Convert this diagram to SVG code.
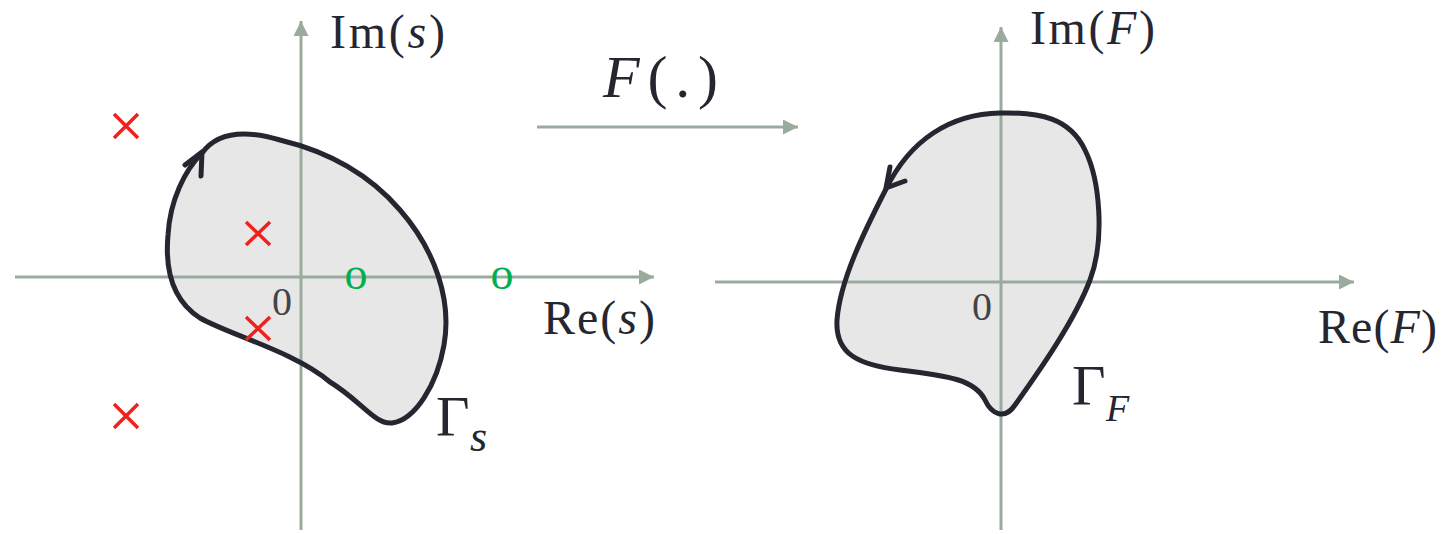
<svg xmlns="http://www.w3.org/2000/svg" width="1447" height="534" viewBox="0 0 1447 534">
<style>
.ax{stroke:#9aab9e;stroke-width:3;fill:none}
.fill{fill:#e6e7e6;stroke:none}
.curve{fill:none;stroke:#262630;stroke-width:5;stroke-linejoin:round;stroke-linecap:round}
.lbl{font-family:"Liberation Serif",serif;fill:#262630}
.it{font-style:italic}
.zero{font-family:"Liberation Serif",serif;fill:#444;font-size:40px}
.cross{stroke:#f0201c;stroke-width:3.5;fill:none}
.zo{font-family:"Liberation Serif",serif;fill:#00b050;font-size:46px;text-anchor:middle}
</style>
<defs>
<marker id="ah" markerUnits="userSpaceOnUse" markerWidth="16" markerHeight="16" refX="15" refY="7.5" orient="auto">
<path d="M0,0 L15,7.5 L0,15 z" fill="#9aab9e"/>
</marker>
</defs>

<g id="fill-s"><path class="fill" d="M202,153 C215,135 240,128 280,140 C330,152 370,175 400,210 C435,250 452,300 444,345 C437,385 415,420 392,423 C375,425 360,400 330,382 C295,352 230,335 200,318 C172,300 165,268 168,235 C170,200 185,170 202,153 Z"/></g>
<g id="fill-F"><path class="fill" d="M886,189 C865,230 840,280 837,320 C835,355 860,365 900,370 C950,376 975,380 985,400 C992,415 1005,420 1015,405 C1040,370 1075,320 1090,280 C1105,240 1100,180 1085,150 C1070,118 1040,112 1000,113 C950,114 910,140 886,189 Z"/></g>

<g id="connectors">
<line class="ax" x1="301" y1="530" x2="301" y2="21" marker-end="url(#ah)"/>
<line class="ax" x1="15" y1="277" x2="654" y2="277" marker-end="url(#ah)"/>
<line class="ax" x1="1001" y1="530" x2="1001" y2="27" marker-end="url(#ah)"/>
<line class="ax" x1="715" y1="282" x2="1354" y2="282" marker-end="url(#ah)"/>
<line class="ax" x1="537" y1="127" x2="798" y2="127" marker-end="url(#ah)"/>
</g>

<g id="contour-s">
<path class="curve" d="M202,153 C215,135 240,128 280,140 C330,152 370,175 400,210 C435,250 452,300 444,345 C437,385 415,420 392,423 C375,425 360,400 330,382 C295,352 230,335 200,318 C172,300 165,268 168,235 C170,200 185,170 202,153 Z"/>
<path class="curve" d="M185,165 L202,152 L201,176"/>
<text class="lbl" x="436" y="436" font-size="58">Γ</text>
<text class="lbl it" x="470" y="451" font-size="44">s</text>
</g>

<g id="contour-F">
<path class="curve" d="M886,189 C865,230 840,280 837,320 C835,355 860,365 900,370 C950,376 975,380 985,400 C992,415 1005,420 1015,405 C1040,370 1075,320 1090,280 C1105,240 1100,180 1085,150 C1070,118 1040,112 1000,113 C950,114 910,140 886,189 Z"/>
<path class="curve" d="M890,167 L886,188 L905,181"/>
<text class="lbl" x="1072" y="405" font-size="58">Γ</text>
<text class="lbl it" x="1106" y="421" font-size="38">F</text>
</g>

<g id="axis-labels">
<text class="lbl" x="330" y="48" font-size="48" textLength="115" lengthAdjust="spacing">Im(<tspan class="it">s</tspan>)</text>
<text class="lbl" x="543" y="334" font-size="48" textLength="112" lengthAdjust="spacing">Re(<tspan class="it">s</tspan>)</text>
<text class="lbl" x="1030" y="44" font-size="48" textLength="125" lengthAdjust="spacing">Im(<tspan class="it">F</tspan>)</text>
<text class="lbl" x="1318" y="343" font-size="48" textLength="119" lengthAdjust="spacing">Re(<tspan class="it">F</tspan>)</text>
<text class="zero" x="272" y="315">0</text>
<text class="zero" x="972" y="320">0</text>
</g>

<g id="map-label">
<text class="lbl" x="603" y="97" font-size="60" textLength="115" lengthAdjust="spacing"><tspan class="it">F</tspan>(.)</text>
</g>

<g id="poles">
<path class="cross" d="M114,114 L138,138 M138,114 L114,138"/>
<path class="cross" d="M246,222 L270,245 M270,222 L246,245"/>
<path class="cross" d="M246,317 L270,340 M270,317 L246,340"/>
<path class="cross" d="M114,404 L138,428 M138,404 L114,428"/>
</g>

<g id="zeros">
<text class="zo" x="356" y="289">o</text>
<text class="zo" x="502" y="289">o</text>
</g>
</svg>
